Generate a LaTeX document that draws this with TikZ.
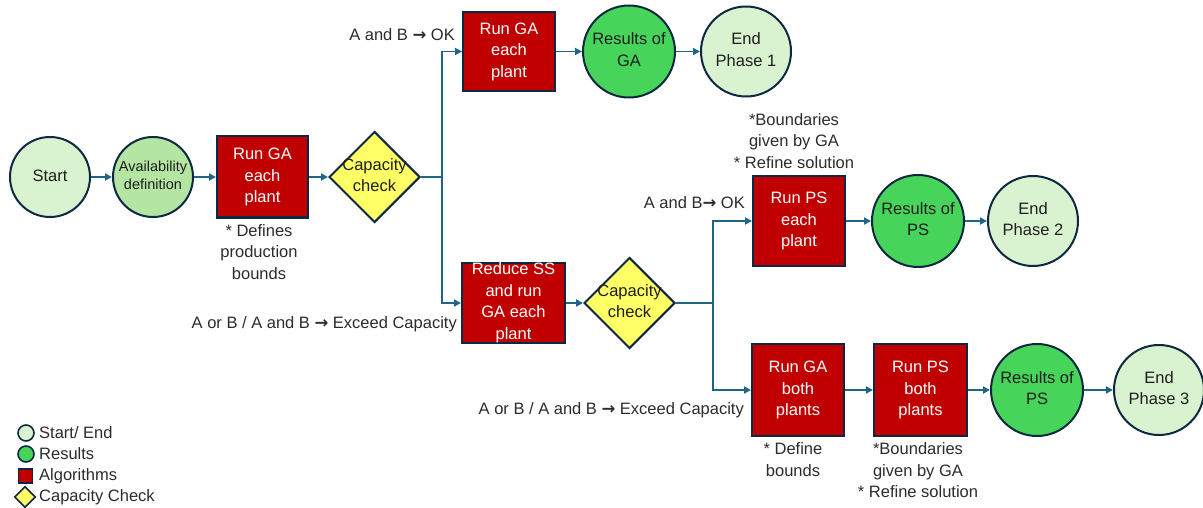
\documentclass[tikz,border=0pt]{standalone}
\usepackage{fontspec}
\setmainfont{Liberation Sans}
\newfontfamily\symfont{DejaVu Sans}
\usetikzlibrary{shapes.geometric,arrows.meta}

\definecolor{edge}{HTML}{0E2841}
\definecolor{flow}{HTML}{1F6587}
\definecolor{startfill}{HTML}{D9F2D0}
\definecolor{availfill}{HTML}{B4E5A2}
\definecolor{resfill}{HTML}{47D45A}
\definecolor{algfill}{HTML}{C00000}
\definecolor{checkfill}{HTML}{FFFF66}
\definecolor{ink}{HTML}{1E1E1E}
\definecolor{note}{HTML}{2B2B2B}

% centred multi-line text that does not enlarge its shape
\newcommand{\zw}[1]{\makebox[0pt]{\smash{\raisebox{-.25em}{\begin{tabular}{@{}c@{}}#1\end{tabular}}}}}
\newcommand{\yields}{{\symfont\bfseries →}}

\begin{document}
\begin{tikzpicture}[x=1pt,y=-1pt,
  every node/.style={font=\fontsize{16.5}{21.5}\selectfont, text=ink},
  base/.style={draw=edge, line width=2pt, inner sep=0pt},
  endpt/.style={base, circle, fill=startfill, minimum size=90pt},
  avail/.style={base, circle, fill=availfill, minimum size=80pt,
    font=\fontsize{14.5}{18}\selectfont},
  result/.style={base, circle, fill=resfill, minimum size=92pt},
  alg/.style={base, rectangle, fill=algfill, text=white},
  check/.style={base, diamond, fill=checkfill, minimum width=91pt,
    minimum height=91pt, shape aspect=1},
  lbl/.style={text=note, align=center, inner sep=0pt},
  conn/.style={draw=flow, line width=1.8pt,
    -{Triangle[length=7pt,width=7pt]}},
  legend/.style={base, line width=1.6pt}
]
\useasboundingbox (0,0) rectangle (1203,508);

% main row
\node[endpt, minimum size=80pt] (start) at (50,177) {\zw{Start}};
\node[avail] (avail) at (153,177) {\zw{Availability\\definition}};
\node[alg, minimum width=91pt, minimum height=81pt] (rga1) at (262.5,177) {\zw{Run GA\\each\\plant}};
\node[check] (cc1) at (374.5,177) {\zw{Capacity\\check}};
\coordinate (j1) at (442,177);

% branch: capacity OK after first check
\node[alg, minimum width=92pt, minimum height=79pt] (rga2) at (509,51.5) {\zw{Run GA\\each\\plant}};
\node[result] (resga) at (629,51.5) {\zw{Results of\\GA}};
\node[endpt] (end1) at (746,51.5) {\zw{End\\Phase 1}};

% branch: capacity exceeded after first check
\node[alg, minimum width=103pt, minimum height=80pt] (rss) at (513.5,303) {\zw{Reduce SS\\and run\\GA each\\plant}};
\node[check] (cc2) at (629.5,303) {\zw{Capacity\\check}};
\coordinate (j2) at (713,303);

% second check OK
\node[alg, minimum width=92pt, minimum height=90pt] (rps1) at (799,221) {\zw{Run PS\\each\\plant}};
\node[result] (resps1) at (918,221) {\zw{Results of\\PS}};
\node[endpt] (end2) at (1033,221) {\zw{End\\Phase 2}};

% second check exceeded
\node[alg, minimum width=92pt, minimum height=92pt] (rgab) at (798,390) {\zw{Run GA\\both\\plants}};
\node[alg, minimum width=93pt, minimum height=92pt] (rpsb) at (920.5,390) {\zw{Run PS\\both\\plants}};
\node[result] (resps2) at (1037,390) {\zw{Results of\\PS}};
\node[endpt] (end3) at (1159,390) {\zw{End\\Phase 3}};

% connectors
\draw[conn] (start) -- (avail);
\draw[conn] (avail) -- (rga1);
\draw[conn] (rga1) -- (cc1);
\draw[conn] (cc1.east) -- (j1) |- (rga2.west);
\draw[conn] (j1) |- (rss.west);
\draw[conn] (rga2) -- (resga);
\draw[conn] (resga) -- (end1);
\draw[conn] (rss) -- (cc2);
\draw[conn] (cc2.east) -- (j2) |- (rps1.west);
\draw[conn] (j2) |- (rgab.west);
\draw[conn] (rps1) -- (resps1);
\draw[conn] (resps1) -- (end2);
\draw[conn] (rgab) -- (rpsb);
\draw[conn] (rpsb) -- (resps2);
\draw[conn] (resps2) -- (end3);

% annotations
\node[lbl] (n1) at (259,252) {* Defines\\production\\bounds};
\node[lbl, anchor=east] (ok1) at (455,35) {A and B \yields{} OK};
\node[lbl, anchor=east] (ex1) at (457,324) {A or B / A and B \yields{} Exceed Capacity};
\node[lbl] (n2) at (794,141) {*Boundaries\\given by GA\\* Refine solution};
\node[lbl, anchor=east] (ok2) at (745,203) {A and B\yields{} OK};
\node[lbl, anchor=east] (ex2) at (744,410) {A or B / A and B \yields{} Exceed Capacity};
\node[lbl] (n3) at (793,459.5) {* Define\\bounds};
\node[lbl] (n4) at (918,470.5) {*Boundaries\\given by GA\\* Refine solution};

% legend
\node[legend, circle, fill=startfill, minimum size=16pt] (k1) at (26,433) {};
\node[legend, circle, fill=resfill, minimum size=16pt] (k2) at (26,454) {};
\node[legend, rectangle, fill=algfill, minimum size=14pt] (k3) at (25.5,476) {};
\node[legend, diamond, fill=checkfill, minimum size=21pt] (k4) at (25,497) {};
\node[lbl, anchor=west] (k1t) at (39,433) {Start/ End};
\node[lbl, anchor=west] (k2t) at (39,454) {Results};
\node[lbl, anchor=west] (k3t) at (39,476) {Algorithms};
\node[lbl, anchor=west] (k4t) at (39,497) {Capacity Check};
\end{tikzpicture}
\end{document}
